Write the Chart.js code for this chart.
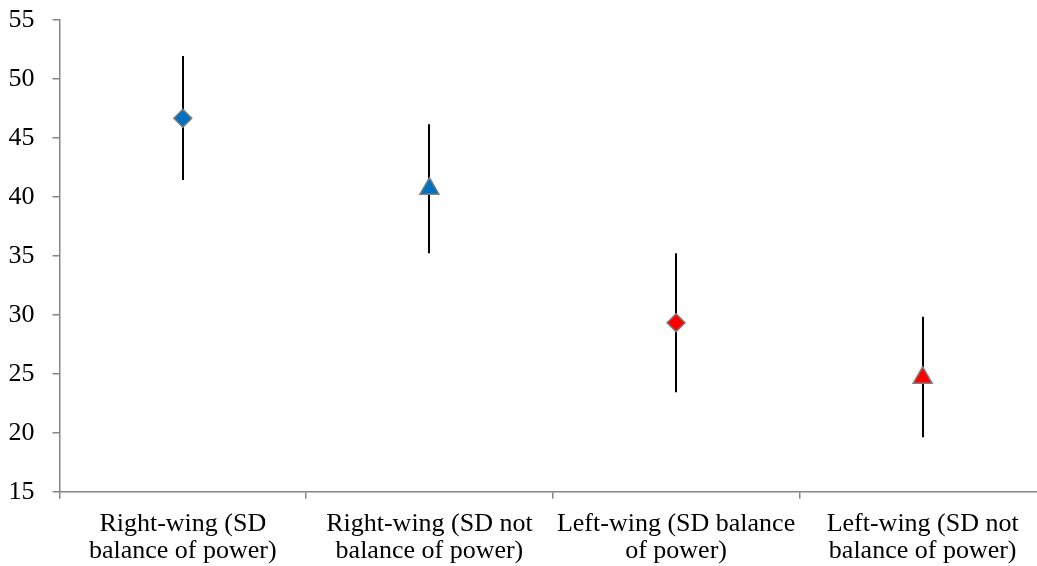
<!DOCTYPE html>
<html>
<head>
<meta charset="utf-8">
<script src="https://cdn.jsdelivr.net/npm/chart.js@4/dist/chart.umd.min.js"></script>
<style>
  html, body { margin: 0; padding: 0; background: #fff; overflow: hidden; }
  canvas { display: block; }
</style>
</head>
<body>
<canvas id="chart" width="1046" height="566"></canvas>
<script>
const categories = [
  ["Right-wing (SD", "balance of power)"],
  ["Right-wing (SD not", "balance of power)"],
  ["Left-wing (SD balance", "of power)"],
  ["Left-wing (SD not", "balance of power)"]
];
const means = [46.67, 40.7, 29.33, 24.66];
const lows = [41.44, 35.22, 23.43, 19.61];
const highs = [51.95, 46.16, 35.22, 29.84];
const yTicks = [15, 20, 25, 30, 35, 40, 45, 50, 55];

const markerColors = ["#0070c0", "#0070c0", "#ff0000", "#ff0000"];
const markerShapes = ["rectRot", "triangle", "rectRot", "triangle"];
const markerSizes = [9, 11, 9, 11];

// vertical error bars drawn behind the markers
const errorBars = {
  id: "errorBars",
  beforeDatasetsDraw(chart) {
    const ctx = chart.ctx;
    const x = chart.scales.x;
    const y = chart.scales.y;
    ctx.save();
    ctx.strokeStyle = "#000";
    ctx.lineWidth = 2;
    for (let i = 0; i < means.length; i++) {
      const px = Math.round(x.getPixelForValue(i));
      ctx.beginPath();
      ctx.moveTo(px, y.getPixelForValue(highs[i]));
      ctx.lineTo(px, y.getPixelForValue(lows[i]));
      ctx.stroke();
    }
    ctx.restore();
  }
};

Chart.defaults.font.family = "'Liberation Serif', 'Times New Roman', serif";
Chart.defaults.font.size = 26;
Chart.defaults.color = "#000";

new Chart(document.getElementById("chart"), {
  type: "line",
  data: {
    labels: categories,
    datasets: [
      {
        data: means,
        showLine: false,
        pointStyle: markerShapes,
        pointRadius: markerSizes,
        pointHoverRadius: markerSizes,
        pointBackgroundColor: markerColors,
        pointBorderColor: "#7f7f7f",
        pointBorderWidth: 1.5
      }
    ]
  },
  options: {
    responsive: false,
    animation: false,
    events: [],
    layout: { autoPadding: false, padding: { top: 20, left: 9, right: 0, bottom: 0 } },
    plugins: {
      legend: { display: false },
      tooltip: { enabled: false }
    },
    scales: {
      x: {
        offset: true,
        afterFit(axis) {
          axis.paddingLeft = 0;
          axis.paddingRight = 0;
          axis.height = 74.3;
        },
        border: { color: "#868686", width: 1.5 },
        grid: {
          offset: true,
          drawOnChartArea: false,
          drawTicks: true,
          tickLength: 7,
          color: "#868686",
          lineWidth: 1.5
        },
        ticks: { padding: 12, maxRotation: 0, autoSkip: false, font: { lineHeight: 1.05 } }
      },
      y: {
        min: 15,
        max: 55,
        afterBuildTicks(axis) {
          axis.ticks = yTicks.map(v => ({ value: v }));
        },
        afterFit(axis) {
          axis.paddingTop = 0;
          axis.paddingBottom = 0;
          axis.width = 50.5;
        },
        border: { color: "#868686", width: 1.5 },
        grid: {
          drawOnChartArea: false,
          drawTicks: true,
          tickLength: 7,
          color: "#868686",
          lineWidth: 1.5
        },
        ticks: { padding: 18 }
      }
    }
  },
  plugins: [errorBars]
});
</script>
</body>
</html>
